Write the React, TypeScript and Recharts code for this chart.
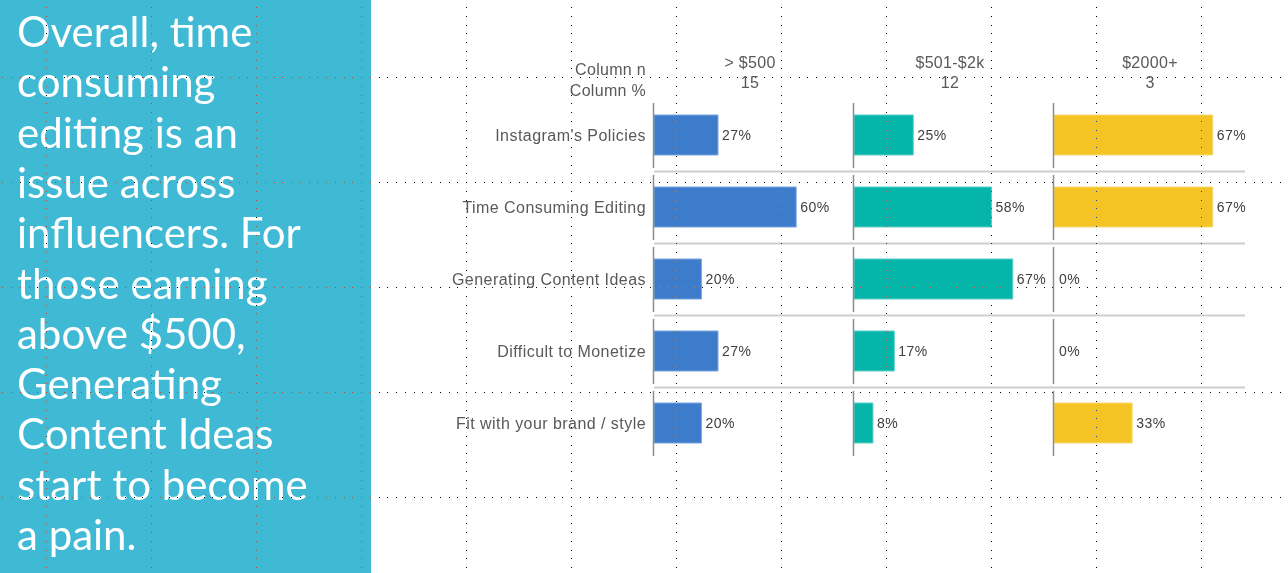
import React from 'react';
import { BarChart, Bar, XAxis, YAxis, LabelList, Cell } from 'recharts';

// ---------- data ----------
const categories = [
  "Instagram's Policies",
  'Time Consuming Editing',
  'Generating Content Ideas',
  'Difficult to Monetize',
  'Fit with your brand / style',
];
const groupLabels = ['> $500', '$501-$2k', '$2000+'];
const groupN = ['15', '12', '3'];
const under500 = [27, 60, 20, 27, 20];
const from501to2k = [25, 58, 67, 17, 8];
const over2000 = [67, 67, 0, 0, 33];
const headerLabels = ['Column n', 'Column %'];
const storyLines = [
  'Overall, time',
  'consuming',
  'editing is an',
  'issue across',
  'influencers. For',
  'those earning',
  'above $500,',
  'Generating',
  'Content Ideas',
  'start to become',
  'a pain.',
];

// ---------- style ----------
const groupColors = ['#3D7CCB', '#05B5AA', '#F4C425'];
const groupStrokes = ['#79A3DC', '#5ACFC6', '#F8DA78'];
const FONT = '"Liberation Sans", Arial, sans-serif';
const W = 1288;
const H = 573;
const PANEL_W = 200;
const PANEL_X = [654, 854, 1054];
const SEP_W = [200, 200, 191];
const LABEL_W = 274;
const PAD = 6;
const TOP = 99;
const BOTTOM = H - 459;
const XMAX = 84.4;

const data = categories.map((c, i) => ({
  category: c,
  v0: under500[i],
  v1: from501to2k[i],
  v2: over2000[i],
}));
const seriesKeys = ['v0', 'v1', 'v2'];
const seriesValues = [under500, from501to2k, over2000];

const makeTick = (idx: number) => (props: any) => {
  const { x, y, payload, index } = props;
  return (
    <g>
      <line x1={x - 0.5} x2={x - 0.5} y1={y - 32} y2={y + 33} stroke="#8c8c8c" strokeWidth={1.5} />
      {index < categories.length - 1 && (
        <line x1={x} x2={x + SEP_W[idx]} y1={y + 36.5} y2={y + 36.5} stroke="#cdcdcd" strokeWidth={2} />
      )}
      {idx === 0 && (
        <text
          x={x - 8}
          y={y + 5.5}
          textAnchor="end"
          fontSize={16}
          fill="#595959"
          fontFamily={FONT}
          letterSpacing={0.45}
        >
          {payload.value}
        </text>
      )}
    </g>
  );
};

function Panel({ idx }: { idx: number }) {
  const withLabels = idx === 0;
  const axisW = withLabels ? LABEL_W : 1;
  const leftPad = withLabels ? LABEL_W : PAD;
  const rightMargin = idx === 2 ? 40 : 0;
  const width = leftPad + PANEL_W + rightMargin;
  const key = seriesKeys[idx];
  return (
    <div style={{ position: 'absolute', left: PANEL_X[idx] - leftPad, top: 0 }}>
      <BarChart
        width={width}
        height={H}
        data={data}
        layout="vertical"
        margin={{ top: TOP, bottom: BOTTOM, left: leftPad - axisW, right: rightMargin }}
      >
        <XAxis type="number" domain={[0, XMAX]} hide />
        <YAxis
          type="category"
          dataKey="category"
          width={axisW}
          axisLine={false}
          tickLine={false}
          tickSize={0}
          tickMargin={0}
          interval={0}
          tick={makeTick(idx)}
        />
        <Bar
          dataKey={key}
          fill={groupColors[idx]}
          stroke={groupStrokes[idx]}
          strokeWidth={1}
          barSize={40}
          minPointSize={1}
          isAnimationActive={false}
        >
          {seriesValues[idx].map((v, i) => (
            <Cell
              key={i}
              fill={v === 0 ? 'transparent' : groupColors[idx]}
              stroke={v === 0 ? 'none' : groupStrokes[idx]}
            />
          ))}
          <LabelList
            dataKey={key}
            position="right"
            offset={4}
            formatter={(v: any) => `${v}%`}
            style={{ fontSize: 14, fill: '#404040', fontFamily: FONT, letterSpacing: 0.5 }}
          />
        </Bar>
      </BarChart>
    </div>
  );
}

function GridDots() {
  const rects: React.ReactNode[] = [];
  const vx = Array.from({ length: 12 }, (_, k) => Math.round(46.2 + 105 * k));
  const hy = Array.from({ length: 5 }, (_, k) => 77 + 105 * k);
  vx.forEach((x) => {
    for (let j = -8; j <= 56; j++) {
      const y = Math.round(77 + 8.75 * j);
      if (hy.includes(y)) continue;
      rects.push(<rect key={`v${x}-${j}`} x={x} y={y} width={1} height={1} fill="#fff" />);
    }
  });
  hy.forEach((y) => {
    for (let j = -5; j <= 141; j++) {
      const x = Math.round(46 + 8.75 * j);
      rects.push(<rect key={`h${y}-${j}`} x={x} y={y} width={1} height={1} fill="#fff" />);
    }
  });
  return (
    <svg
      width={W}
      height={H}
      style={{ position: 'absolute', left: 0, top: 0, mixBlendMode: 'difference', pointerEvents: 'none' }}
    >
      {rects}
    </svg>
  );
}

export default function App() {
  return (
    <div
      style={{
        position: 'absolute',
        left: 0,
        top: 0,
        width: W,
        height: H,
        background: '#fff',
        overflow: 'hidden',
        fontFamily: FONT,
      }}
    >
      <svg width={371} height={H} style={{ position: 'absolute', left: 0, top: 0 }}>
        <rect x={0} y={0} width={371} height={H} fill="#40B9D4" />
        {storyLines.map((line, i) => (
          <text
            key={i}
            x={17}
            y={47 + 50.3 * i}
            fill="#fff"
            style={{ fontFamily: 'Lato, sans-serif', fontSize: 42 }}
          >
            {line}
          </text>
        ))}
      </svg>

      {[0, 1, 2].map((i) => (
        <Panel key={i} idx={i} />
      ))}

      <svg width={W} height={H} style={{ position: 'absolute', left: 0, top: 0, pointerEvents: 'none' }}>
        {headerLabels.map((t, i) => (
          <text
            key={t}
            x={PANEL_X[0] - 8}
            y={75 + 21 * i}
            textAnchor="end"
            fontSize={16}
            fill="#595959"
            fontFamily={FONT}
            letterSpacing={0.3}
          >
            {t}
          </text>
        ))}
        {groupLabels.map((g, i) => (
          <g key={g}>
            <text
              x={PANEL_X[i] + PANEL_W / 2 - 4}
              y={67.5}
              textAnchor="middle"
              fontSize={16}
              fill="#595959"
              fontFamily={FONT}
              letterSpacing={0.3}
            >
              {g}
            </text>
            <text
              x={PANEL_X[i] + PANEL_W / 2 - 4}
              y={88}
              textAnchor="middle"
              fontSize={16}
              fill="#595959"
              fontFamily={FONT}
              letterSpacing={0.3}
            >
              {groupN[i]}
            </text>
          </g>
        ))}
      </svg>

      <GridDots />
    </div>
  );
}
